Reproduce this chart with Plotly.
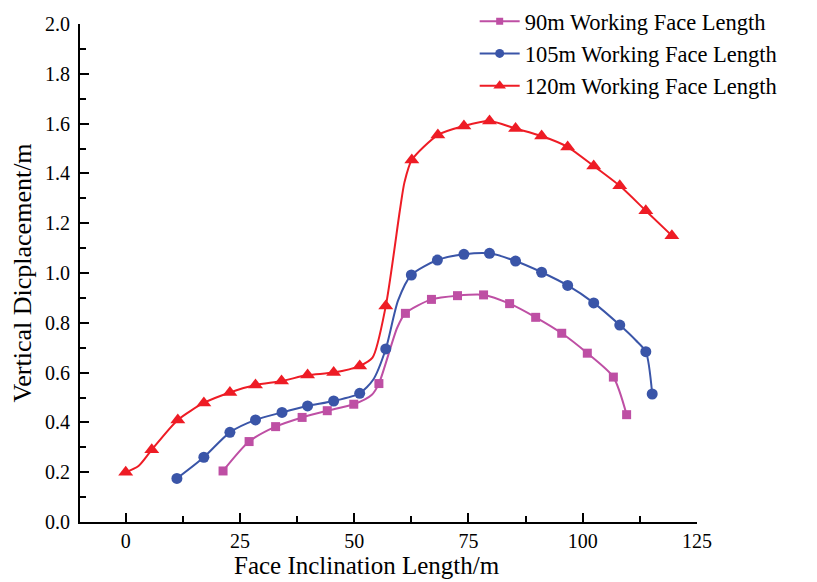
import plotly.graph_objects as go

# ---- data ----
names = ["90m Working Face Length", "105m Working Face Length", "120m Working Face Length"]

x90 = [21.3, 27.0, 32.8, 38.6, 44.1, 49.9, 55.4, 61.2, 66.9, 72.6, 78.3, 84.0, 89.7, 95.4, 101.0, 106.7, 109.6]
y90 = [0.205, 0.323, 0.383, 0.420, 0.447, 0.473, 0.556, 0.838, 0.894, 0.909, 0.912, 0.877, 0.822, 0.758, 0.678, 0.582, 0.431]
x90_extra = [53.8, 59.4]
y90_extra = [0.51, 0.78]

x105 = [11.2, 17.1, 22.8, 28.4, 34.2, 39.8, 45.5, 51.2, 56.9, 62.5, 68.2, 74.0, 79.6, 85.3, 91.0, 96.7, 102.4, 108.1, 113.8, 115.2]
y105 = [0.175, 0.26, 0.36, 0.41, 0.44, 0.466, 0.486, 0.517, 0.695, 0.992, 1.052, 1.075, 1.079, 1.048, 1.003, 0.95, 0.88, 0.791, 0.684, 0.514]
x105_extra = [54.1, 59.6, 111.6]
y105_extra = [0.57, 0.89, 0.73]

x120 = [0.0, 5.7, 11.4, 17.1, 22.8, 28.4, 34.1, 39.8, 45.5, 51.2, 56.9, 62.6, 68.3, 74.0, 79.6, 85.3, 91.0, 96.7, 102.4, 108.1, 113.8, 119.5]
y120 = [0.20, 0.29, 0.41, 0.478, 0.52, 0.55, 0.566, 0.59, 0.60, 0.627, 0.867, 1.454, 1.554, 1.59, 1.61, 1.58, 1.55, 1.506, 1.43, 1.35, 1.25, 1.15]
x120_extra = [2.8, 54.0, 60.0, 61.0]
y120_extra = [0.225, 0.66, 1.253, 1.365]

x_ticks = [0, 25, 50, 75, 100, 125]
y_ticks = [0.0, 0.2, 0.4, 0.6, 0.8, 1.0, 1.2, 1.4, 1.6, 1.8, 2.0]

x_title = "Face Inclination Length/m"
y_title = "Vertical Dicplacement/m"

# ---- styling ----
colors = ["#BE4FA4", "#3A55A8", "#EE1C25"]
symbols = ["square", "circle", "triangle-up"]
msizes = [9, 11, 13]
FONT = "Liberation Serif, Times New Roman, serif"

series = [
    (x90, y90, x90_extra, y90_extra),
    (x105, y105, x105_extra, y105_extra),
    (x120, y120, x120_extra, y120_extra),
]

fig = go.Figure()
for i, (xm, ym, xe, ye) in enumerate(series):
    pts = sorted(zip(xm + xe, ym + ye))
    fig.add_trace(go.Scatter(
        x=[p[0] for p in pts], y=[p[1] for p in pts], mode="lines",
        line=dict(color=colors[i], width=2, shape="spline", smoothing=0.7),
        showlegend=False, hoverinfo="skip"))
    fig.add_trace(go.Scatter(
        x=xm, y=ym, mode="markers",
        marker=dict(color=colors[i], symbol=symbols[i], size=msizes[i]),
        showlegend=False))
    # legend entry
    fig.add_trace(go.Scatter(
        x=[None], y=[None], mode="lines+markers", name=names[i],
        line=dict(color=colors[i], width=2),
        marker=dict(color=colors[i], symbol=symbols[i], size=msizes[i] - 2)))

axis_common = dict(
    showline=True, linecolor="black", linewidth=2, mirror=False,
    ticks="inside", ticklen=9, tickwidth=2, tickcolor="black",
    showgrid=False, zeroline=False,
    tickfont=dict(family=FONT, size=20, color="black"),
)

fig.update_xaxes(
    range=[-10, 125], tickvals=x_ticks, ticktext=[str(v) for v in x_ticks],
    minor=dict(ticks="inside", ticklen=6, tickwidth=2, tickcolor="black", dtick=12.5, tick0=0),
    **axis_common)
fig.update_yaxes(
    range=[0, 2.0], tickvals=y_ticks, ticktext=[f"{v:.1f}" for v in y_ticks],
    ticklabelstandoff=4,
    title=dict(text=y_title, font=dict(family=FONT, size=26, color="black"), standoff=6),
    minor=dict(ticks="inside", ticklen=6, tickwidth=2, tickcolor="black", dtick=0.1, tick0=0),
    **axis_common)

fig.add_annotation(
    text=x_title, xref="paper", yref="paper", x=0.465, y=-0.088,
    xanchor="center", yanchor="middle", showarrow=False,
    font=dict(family=FONT, size=25, color="black"))

fig.update_layout(
    width=817, height=582,
    margin=dict(l=80, r=120, t=24, b=60, autoexpand=False),
    plot_bgcolor="white", paper_bgcolor="white",
    font=dict(family=FONT, color="black"),
    legend=dict(xref="container", yref="container", x=0.581, y=1.0,
                xanchor="left", yanchor="top",
                font=dict(family=FONT, size=22.5, color="black"),
                bgcolor="rgba(0,0,0,0)", tracegroupgap=0, itemwidth=40),
)

fig.write_html("out.html")
